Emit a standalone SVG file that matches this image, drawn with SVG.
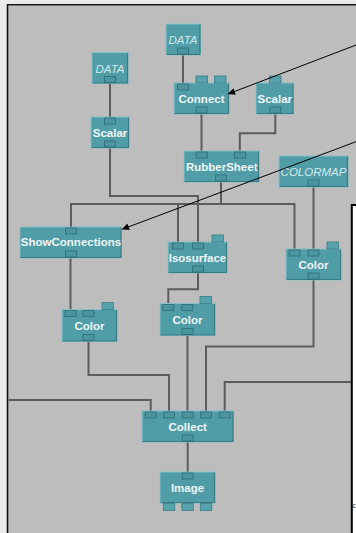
<svg xmlns="http://www.w3.org/2000/svg" width="356" height="533" viewBox="0 0 356 533">
<style>
.node{fill:#509ca7;stroke:#86c0c8;stroke-width:1}
.sh{fill:none;stroke:#3a7c86;stroke-width:1.2}
.pin{fill:#4b95a0;stroke:#2f6c75;stroke-width:0.8}
.tab{fill:#56a3ae;stroke:#3a7c86;stroke-width:0.8}
.lbl{font-family:"Liberation Sans",Arial,sans-serif;font-weight:bold;font-size:11.5px;fill:#eef6f7;text-anchor:middle}
.dat{font-family:"Liberation Sans",Arial,sans-serif;font-style:italic;font-size:11.5px;fill:#d3e8eb;text-anchor:middle}
.wire{fill:none;stroke:#5c5c5c;stroke-width:2}
.arr{fill:none;stroke:#000;stroke-width:1}
</style>
<defs>
<marker id="ah" viewBox="0 0 10 10" refX="10" refY="5" markerWidth="9" markerHeight="7" markerUnits="userSpaceOnUse" orient="auto">
<path d="M0,0 L10,5 L0,10 Z" fill="#000"/>
</marker>
</defs>
<rect x="0" y="0" width="356" height="533" fill="#ebebeb"/>
<rect x="8" y="5.5" width="348" height="528" fill="#bdbdbd"/>
<path d="M7.5,533 V4.8 H356" fill="none" stroke="#111" stroke-width="1.6"/>

<g id="connectors">
<path class="wire" d="M110,83 V117"/>
<path class="wire" d="M110,148 V196 H198 V242"/>
<path class="wire" d="M183,55 V83"/>
<path class="wire" d="M201.5,114 V151"/>
<path class="wire" d="M275.3,114 V133.3 H239.8 V151"/>
<path class="wire" d="M221,182 V204 H71 V227"/>
<path class="wire" d="M221,204 H178 V242"/>
<path class="wire" d="M221,204 H294.5 V249"/>
<path class="wire" d="M313.5,187 V249"/>
<path class="wire" d="M70.5,258 V309.5"/>
<path class="wire" d="M198,273 V289.3 H168.3 V303.5"/>
<path class="wire" d="M88.5,341 V375 H169 V411"/>
<path class="wire" d="M187.5,335.5 V411"/>
<path class="wire" d="M313.5,280 V346.5 H206 V411"/>
<path class="wire" d="M8.5,400 H150.7 V411"/>
<path class="wire" d="M351,382 H224.7 V411"/>
<path class="wire" d="M187.7,442 V472"/>
</g>

<g id="node-data-left">
<rect class="node" x="92" y="52.5" width="36" height="31"/>
<path class="sh" d="M92.5,83 H127.5 V53"/>
<rect class="pin" x="104.5" y="76.5" width="11" height="6"/>
<text class="dat" x="110" y="73">DATA</text>
</g>
<g id="node-data-top">
<rect class="node" x="166" y="24" width="34.5" height="31"/>
<path class="sh" d="M166.5,54.5 H200 V24.5"/>
<rect class="pin" x="177.5" y="48" width="11" height="6"/>
<text class="dat" x="183" y="44">DATA</text>
</g>
<g id="node-scalar-left">
<rect class="node" x="91" y="117" width="38" height="31"/>
<path class="sh" d="M91.5,147.5 H128.5 V117.5"/>
<rect class="pin" x="104.5" y="118" width="11" height="6"/>
<rect class="pin" x="104.5" y="141" width="11" height="6"/>
<text class="lbl" x="110" y="137">Scalar</text>
</g>
<g id="node-connect">
<rect class="node" x="174" y="83" width="55" height="31"/>
<path class="sh" d="M174.5,113.5 H228.5 V83.5"/>
<rect class="pin" x="177.5" y="84" width="11" height="6"/>
<rect class="tab" x="196" y="76" width="11.5" height="7"/>
<rect class="tab" x="214.5" y="76" width="11.5" height="7"/>
<rect class="pin" x="196" y="107" width="11" height="6"/>
<text class="lbl" x="201.5" y="102.5">Connect</text>
</g>
<g id="node-scalar-right">
<rect class="node" x="256" y="83" width="37.5" height="31"/>
<path class="sh" d="M256.5,113.5 H293 V83.5"/>
<rect class="tab" x="269.5" y="76" width="11.5" height="7"/>
<rect class="pin" x="269.8" y="107" width="11" height="6"/>
<text class="lbl" x="274.8" y="102.5">Scalar</text>
</g>
<g id="node-rubbersheet">
<rect class="node" x="184" y="151" width="75" height="31"/>
<path class="sh" d="M184.5,181.5 H258.5 V151.5"/>
<rect class="pin" x="196.2" y="152" width="11" height="6"/>
<rect class="pin" x="234.5" y="152" width="11" height="6"/>
<rect class="pin" x="215.5" y="175" width="11" height="6"/>
<text class="lbl" x="221.7" y="170.5">RubberSheet</text>
</g>
<g id="node-colormap">
<rect class="node" x="279" y="156" width="69" height="31"/>
<path class="sh" d="M279.5,186.5 H347.5 V156.5"/>
<rect class="pin" x="308" y="180" width="11" height="6"/>
<text class="dat" x="313.5" y="175.5">COLORMAP</text>
</g>
<g id="node-showconnections">
<rect class="node" x="20" y="227" width="101.5" height="31"/>
<path class="sh" d="M20.5,257.5 H121 V227.5"/>
<rect class="pin" x="65.5" y="228" width="11" height="6"/>
<rect class="pin" x="65.5" y="251" width="11" height="6"/>
<text class="lbl" x="71" y="246">ShowConnections</text>
</g>
<g id="node-isosurface">
<rect class="node" x="168" y="242" width="59" height="31"/>
<path class="sh" d="M168.5,272.5 H226.5 V242.5"/>
<rect class="pin" x="172.5" y="243" width="11" height="6"/>
<rect class="pin" x="192.5" y="243" width="11" height="6"/>
<rect class="tab" x="212" y="235" width="11.5" height="7"/>
<rect class="pin" x="192.5" y="266" width="11" height="6"/>
<text class="lbl" x="197.5" y="261.5">Isosurface</text>
</g>
<g id="node-color-left">
<rect class="node" x="62" y="309.5" width="55" height="32"/>
<path class="sh" d="M62.5,341 H116.5 V310"/>
<rect class="pin" x="65" y="310.5" width="11" height="6"/>
<rect class="pin" x="83" y="310.5" width="11" height="6"/>
<rect class="tab" x="102" y="302.5" width="11.5" height="7"/>
<rect class="pin" x="83" y="334.5" width="11" height="6"/>
<text class="lbl" x="89.5" y="329.5">Color</text>
</g>
<g id="node-color-mid">
<rect class="node" x="160" y="303.5" width="55" height="32"/>
<path class="sh" d="M160.5,335 H214.5 V304"/>
<rect class="pin" x="162.8" y="304.5" width="11" height="6"/>
<rect class="pin" x="181.8" y="304.5" width="11" height="6"/>
<rect class="tab" x="200" y="296.5" width="11.5" height="7"/>
<rect class="pin" x="182" y="328.5" width="11" height="6"/>
<text class="lbl" x="187.5" y="324">Color</text>
</g>
<g id="node-color-right">
<rect class="node" x="286" y="249" width="55" height="31"/>
<path class="sh" d="M286.5,279.5 H340.5 V249.5"/>
<rect class="pin" x="289" y="250" width="11" height="6"/>
<rect class="pin" x="308" y="250" width="11" height="6"/>
<rect class="tab" x="327" y="242" width="11.5" height="7"/>
<rect class="pin" x="308" y="273" width="11" height="6"/>
<text class="lbl" x="313.5" y="268.5">Color</text>
</g>
<g id="node-collect">
<rect class="node" x="142" y="411" width="91.5" height="31"/>
<path class="sh" d="M142.5,441.5 H233 V411.5"/>
<rect class="pin" x="145.2" y="412" width="11" height="6"/>
<rect class="pin" x="163.5" y="412" width="11" height="6"/>
<rect class="pin" x="182.2" y="412" width="11" height="6"/>
<rect class="pin" x="200.5" y="412" width="11" height="6"/>
<rect class="pin" x="219.2" y="412" width="11" height="6"/>
<rect class="pin" x="182.2" y="435" width="11" height="6"/>
<text class="lbl" x="187.7" y="430.5">Collect</text>
</g>
<g id="node-image">
<rect class="node" x="160" y="472" width="55" height="31"/>
<path class="sh" d="M160.5,502.5 H214.5 V472.5"/>
<rect class="pin" x="182.2" y="473" width="11" height="6"/>
<rect class="tab" x="163.3" y="503.5" width="11.5" height="7"/>
<rect class="tab" x="181.8" y="503.5" width="11.5" height="7"/>
<rect class="tab" x="200.3" y="503.5" width="11.5" height="7"/>
<text class="lbl" x="187.5" y="492">Image</text>
</g>

<g id="panel">
<rect x="351.8" y="205" width="10" height="340" fill="#fff" stroke="#000" stroke-width="2"/>
<text x="352.6" y="507.5" font-family="Liberation Sans, Arial, sans-serif" font-size="6.5" fill="#333">c</text>
</g>

<g id="arrows">
<path class="arr" d="M356,45 L228,94" marker-end="url(#ah)"/>
<path class="arr" d="M356,141.7 L122,229.3" marker-end="url(#ah)"/>
</g>
</svg>
